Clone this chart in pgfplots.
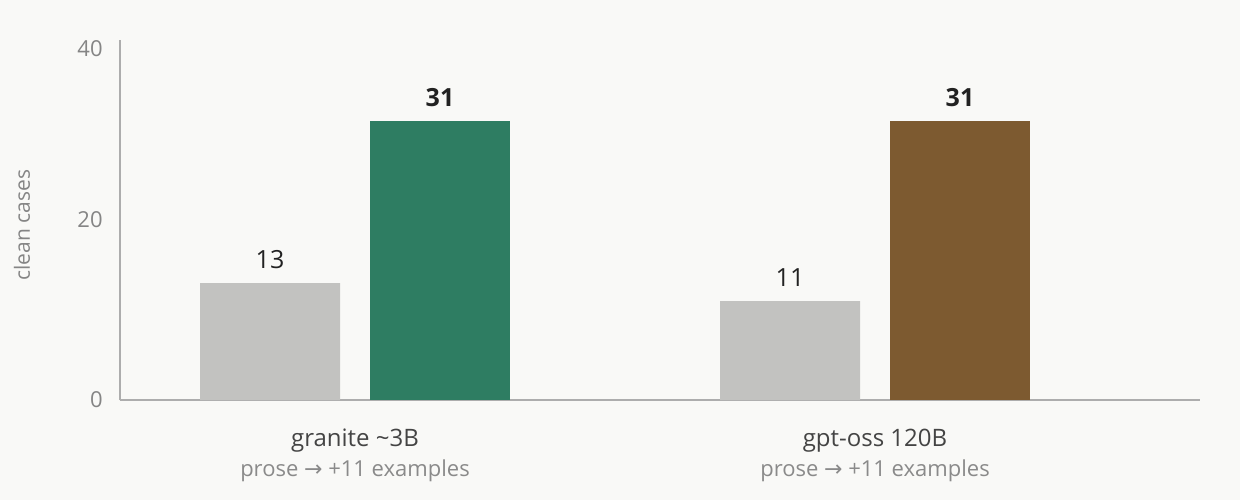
\documentclass[border=0pt]{standalone}
\usepackage{fontspec}
\setmainfont{Open Sans}
\newfontfamily\symfont{DejaVu Sans}
\usepackage{pgfplots}
\pgfplotsset{compat=1.18}

\definecolor{bg}{HTML}{F9F9F7}
\definecolor{axisgray}{HTML}{ADADAD}
\definecolor{barsgray}{HTML}{C2C2C0}
\definecolor{bargreen}{HTML}{2E7D62}
\definecolor{barbrown}{HTML}{7D5A30}
\definecolor{valtext}{HTML}{222222}
\definecolor{ticktext}{HTML}{858585}
\definecolor{cattext}{HTML}{444444}
\definecolor{subtext}{HTML}{8A8A8A}

% 1 px of the reference = 0.5pt; axis box spans px 120..1200 (x), 40..400 (y)
\newcommand{\sub}[1]{{\fontsize{11}{13}\selectfont\color{subtext}#1}}

\begin{document}
\begin{tikzpicture}
\fill[bg] (-60pt,-50pt) rectangle (560pt,200pt);
\useasboundingbox (-60pt,-50pt) rectangle (560pt,200pt);
\begin{axis}[
    anchor=south west, at={(0,0)},
    x=0.5pt, y=4.5pt,
    xmin=120, xmax=1200, ymin=0, ymax=40,
    axis x line*=bottom, axis y line*=left,
    axis line style={draw=axisgray, line width=0.8pt},
    major tick length=0pt,
    ytick={0,20},
    extra y ticks={40},
    extra y tick style={yticklabel style={yshift=-4.5pt}},
    xtick={355,875},
    xticklabels={
      {granite \textasciitilde3B\\\sub{prose {\symfont→} +11 examples}},
      {gpt-oss 120B\\\sub{prose {\symfont→} +11 examples}}},
    /pgf/number format/assume math mode=true,
    yticklabel style={font=\fontsize{11}{13}\selectfont, text=ticktext,
      anchor=east, inner sep=0pt, xshift=-8.5pt},
    xticklabel style={font=\fontsize{12}{15.25}\selectfont, text=cattext,
      align=center, anchor=north, inner sep=0pt, yshift=-14.2pt},
    ylabel={clean cases},
    ylabel style={at={(axis description cs:-0.0907,0.486)}, anchor=center,
      font=\fontsize{10.5}{12}\selectfont, text=ticktext},
    ybar, bar width=70pt, bar shift=0pt,
    clip=false,
    nodes near coords,
    every node near coord/.append style={anchor=base, yshift=7.5pt,
      text=valtext, inner sep=0pt},
]
\addplot[fill=barsgray, draw=none,
  every node near coord/.append style={font=\fontsize{12.5}{14}\selectfont}]
  coordinates {(270,13) (790,11)};
\addplot[fill=bargreen, draw=none,
  every node near coord/.append style={font=\fontsize{12.5}{14}\selectfont\bfseries}]
  coordinates {(440,31)};
\addplot[fill=barbrown, draw=none,
  every node near coord/.append style={font=\fontsize{12.5}{14}\selectfont\bfseries}]
  coordinates {(960,31)};
\end{axis}
\end{tikzpicture}
\end{document}
